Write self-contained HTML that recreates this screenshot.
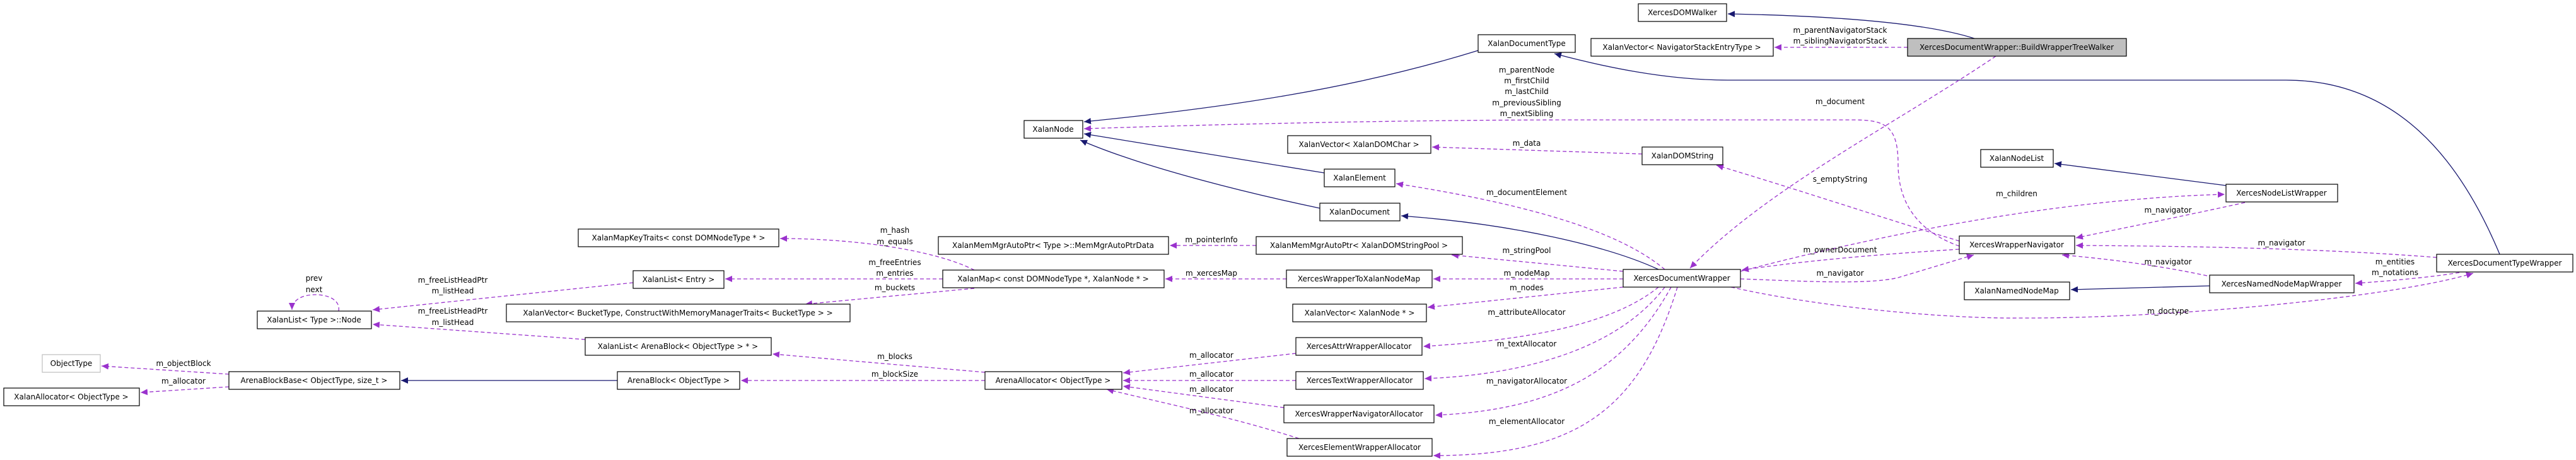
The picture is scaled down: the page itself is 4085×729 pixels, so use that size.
<!DOCTYPE html>
<html><head><meta charset="utf-8"><style>
html,body{margin:0;padding:0;background:#fff;}
svg{display:block;font-family:"DejaVu Sans","Liberation Sans",sans-serif;font-size:12px;}
.b{fill:#fff;stroke:#000;stroke-width:1.2}
.s{fill:none;stroke:#191970;stroke-width:1.3}
.d{fill:none;stroke:#9a32cd;stroke-width:1.3;stroke-dasharray:6,4}
text{text-anchor:middle;fill:#000}
</style></head><body>
<svg width="4085" height="729" viewBox="0 0 4085 729" xmlns="http://www.w3.org/2000/svg">
<defs>
<marker id="an" markerUnits="userSpaceOnUse" markerWidth="12" markerHeight="10" refX="11" refY="5" orient="auto"><path d="M0,0 L11,5 L0,10 z" fill="#191970"/></marker>
<marker id="ap" markerUnits="userSpaceOnUse" markerWidth="12" markerHeight="10" refX="11" refY="5" orient="auto"><path d="M0,0 L11,5 L0,10 z" fill="#9a32cd"/></marker>
</defs>

<!-- solid edges -->
<g class="s" marker-end="url(#an)">
<path class="s" marker-end="url(#an)" d="M2344,80 C2150,140 1950,170 1719,193"/>
<path class="s" marker-end="url(#an)" d="M2100,274 L1719,212"/>
<path class="s" marker-end="url(#an)" d="M2093,330 C1950,300 1800,260 1713,222"/>
<path class="s" marker-end="url(#an)" d="M2630,427 C2550,390 2400,355 2222,342"/>
<path class="s" marker-end="url(#an)" d="M3131,61 C3050,35 2900,25 2740,22"/>
<path class="s" marker-end="url(#an)" d="M3964,403 C3900,250 3800,127 3625,127 L2740,127 C2640,127 2540,105 2465,85"/>
<path class="s" marker-end="url(#an)" d="M3530,294 L3258,259"/>
<path class="s" marker-end="url(#an)" d="M3504,453 L3284,459"/>
<path class="s" marker-end="url(#an)" d="M979,603 L636,603"/>
</g>

<!-- dashed edges -->
<g>
<path class="d" marker-end="url(#ap)" d="M3025,75 L2814,75"/>
<path class="d" marker-end="url(#ap)" d="M3165,89 C3000,200 2800,300 2680,425"/>
<path class="d" marker-end="url(#ap)" d="M3107,390 C3050,370 3010,330 3010,260 C3010,200 2990,190 2940,190 L2500,190 C2200,190 1900,198 1719,204"/>
<path class="d" marker-end="url(#ap)" d="M2604,244 L2271,233"/>
<path class="d" marker-end="url(#ap)" d="M2640,427 C2560,360 2400,320 2214,291"/>
<path class="d" marker-end="url(#ap)" d="M3107,382 C3000,350 2850,300 2722,262"/>
<path class="d" marker-end="url(#ap)" d="M3107,395 C2950,405 2850,415 2762,428"/>
<path class="d" marker-end="url(#ap)" d="M2760,442 C2850,445 2960,452 3010,440 C3060,425 3110,410 3130,404"/>
<path class="d" marker-end="url(#ap)" d="M2760,430 C2950,380 3250,315 3528,308"/>
<path class="d" marker-end="url(#ap)" d="M3560,321 C3450,345 3350,365 3292,377"/>
<path class="d" marker-end="url(#ap)" d="M3864,408 C3700,395 3500,390 3292,389"/>
<path class="d" marker-end="url(#ap)" d="M3500,437 C3420,420 3340,410 3270,404"/>
<path class="d" marker-end="url(#ap)" d="M3900,432 C3850,440 3780,446 3735,449"/>
<path class="d" marker-end="url(#ap)" d="M2745,455 C2900,490 3100,505 3200,504 C3450,505 3800,470 3922,433"/>
<path class="d" marker-end="url(#ap)" d="M2574,430 L2302,404"/>
<path class="d" marker-end="url(#ap)" d="M2574,442 L2273,442"/>
<path class="d" marker-end="url(#ap)" d="M2574,455 L2264,487"/>
<path class="d" marker-end="url(#ap)" d="M2630,455 C2550,520 2400,540 2257,549"/>
<path class="d" marker-end="url(#ap)" d="M2640,455 C2560,560 2400,595 2259,600"/>
<path class="d" marker-end="url(#ap)" d="M2650,455 C2570,600 2450,650 2276,658"/>
<path class="d" marker-end="url(#ap)" d="M2660,455 C2600,650 2500,722 2273,722"/>
<path class="d" marker-end="url(#ap)" d="M2055,560 L1781,591"/>
<path class="d" marker-end="url(#ap)" d="M2055,603 L1781,603"/>
<path class="d" marker-end="url(#ap)" d="M2036,646 L1781,612"/>
<path class="d" marker-end="url(#ap)" d="M2060,695 C1950,660 1850,640 1755,617"/>
<path class="d" marker-end="url(#ap)" d="M2040,442 L1848,442"/>
<path class="d" marker-end="url(#ap)" d="M1992,389 L1855,389"/>
<path class="d" marker-end="url(#ap)" d="M1545,428 C1480,395 1350,378 1237,378"/>
<path class="d" marker-end="url(#ap)" d="M1495,442 L1150,442"/>
<path class="d" marker-end="url(#ap)" d="M1545,457 L1277,482"/>
<path class="d" marker-end="url(#ap)" d="M1562,590 L1225,561"/>
<path class="d" marker-end="url(#ap)" d="M1562,603 L1175,603"/>
<path class="d" marker-end="url(#ap)" d="M363,593 L161,580"/>
<path class="d" marker-end="url(#ap)" d="M363,613 L223,622"/>
<path class="d" marker-end="url(#ap)" d="M1004,448 L591,491"/>
<path class="d" marker-end="url(#ap)" d="M928,538 L591,514"/>
<path class="d" marker-end="url(#ap)" d="M537,493 C540,475 520,467 500,467 C480,467 463,475 463,491"/>
</g>

<!-- boxes -->
<g>
<rect class="b" x="2598" y="6" width="140" height="28"/><text x="2668" y="24">XercesDOMWalker</text>
<rect class="b" x="2344" y="55" width="154" height="28"/><text x="2421" y="73">XalanDocumentType</text>
<rect class="b" x="2523" y="61" width="289" height="28"/><text x="2667" y="79">XalanVector&lt; NavigatorStackEntryType &gt;</text>
<rect x="3025" y="61" width="347" height="28" fill="#bfbfbf" stroke="#000" stroke-width="1.2"/><text x="3198" y="79">XercesDocumentWrapper::BuildWrapperTreeWalker</text>
<rect class="b" x="1624" y="191" width="93" height="28"/><text x="1670" y="209">XalanNode</text>
<rect class="b" x="2042" y="215" width="227" height="28"/><text x="2155" y="233">XalanVector&lt; XalanDOMChar &gt;</text>
<rect class="b" x="2604" y="233" width="128" height="28"/><text x="2668" y="251">XalanDOMString</text>
<rect class="b" x="2100" y="268" width="112" height="28"/><text x="2156" y="286">XalanElement</text>
<rect class="b" x="2093" y="322" width="127" height="28"/><text x="2156" y="340">XalanDocument</text>
<rect class="b" x="3141" y="237" width="115" height="28"/><text x="3198" y="255">XalanNodeList</text>
<rect class="b" x="3530" y="292" width="177" height="28"/><text x="3618" y="310">XercesNodeListWrapper</text>
<rect class="b" x="917" y="363" width="318" height="28"/><text x="1076" y="381">XalanMapKeyTraits&lt; const DOMNodeType * &gt;</text>
<rect class="b" x="1488" y="375" width="365" height="28"/><text x="1670" y="393">XalanMemMgrAutoPtr&lt; Type &gt;::MemMgrAutoPtrData</text>
<rect class="b" x="1992" y="375" width="327" height="28"/><text x="2155" y="393">XalanMemMgrAutoPtr&lt; XalanDOMStringPool &gt;</text>
<rect class="b" x="3107" y="374" width="183" height="28"/><text x="3198" y="392">XercesWrapperNavigator</text>
<rect class="b" x="3864" y="403" width="216" height="28"/><text x="3972" y="421">XercesDocumentTypeWrapper</text>
<rect class="b" x="2574" y="427" width="186" height="28"/><text x="2667" y="445">XercesDocumentWrapper</text>
<rect class="b" x="1004" y="429" width="144" height="28"/><text x="1076" y="447">XalanList&lt; Entry &gt;</text>
<rect class="b" x="1495" y="428" width="351" height="28"/><text x="1670" y="446">XalanMap&lt; const DOMNodeType *, XalanNode * &gt;</text>
<rect class="b" x="2040" y="428" width="231" height="28"/><text x="2155" y="446">XercesWrapperToXalanNodeMap</text>
<rect class="b" x="3504" y="436" width="229" height="28"/><text x="3618" y="454">XercesNamedNodeMapWrapper</text>
<rect class="b" x="3115" y="447" width="167" height="28"/><text x="3198" y="465">XalanNamedNodeMap</text>
<rect class="b" x="803" y="482" width="545" height="28"/><text x="1075" y="500">XalanVector&lt; BucketType, ConstructWithMemoryManagerTraits&lt; BucketType &gt; &gt;</text>
<rect class="b" x="2050" y="482" width="212" height="28"/><text x="2156" y="500">XalanVector&lt; XalanNode * &gt;</text>
<rect class="b" x="408" y="493" width="181" height="28"/><text x="498" y="511">XalanList&lt; Type &gt;::Node</text>
<rect class="b" x="928" y="535" width="295" height="28"/><text x="1075" y="553">XalanList&lt; ArenaBlock&lt; ObjectType &gt; * &gt;</text>
<rect class="b" x="2055" y="535" width="200" height="28"/><text x="2155" y="553">XercesAttrWrapperAllocator</text>
<rect x="67" y="562" width="92" height="28" fill="#fff" stroke="#bfbfbf" stroke-width="1.2"/><text x="113" y="580">ObjectType</text>
<rect class="b" x="363" y="589" width="271" height="28"/><text x="498" y="607">ArenaBlockBase&lt; ObjectType, size_t &gt;</text>
<rect class="b" x="979" y="589" width="194" height="28"/><text x="1076" y="607">ArenaBlock&lt; ObjectType &gt;</text>
<rect class="b" x="1562" y="589" width="217" height="28"/><text x="1670" y="607">ArenaAllocator&lt; ObjectType &gt;</text>
<rect class="b" x="2055" y="589" width="202" height="28"/><text x="2156" y="607">XercesTextWrapperAllocator</text>
<rect class="b" x="6" y="615" width="215" height="28"/><text x="113" y="633">XalanAllocator&lt; ObjectType &gt;</text>
<rect class="b" x="2036" y="642" width="238" height="28"/><text x="2155" y="660">XercesWrapperNavigatorAllocator</text>
<rect class="b" x="2041" y="695" width="230" height="28"/><text x="2156" y="713">XercesElementWrapperAllocator</text>
</g>

<!-- labels -->
<g>
<text x="2918" y="52">m_parentNavigatorStack</text>
<text x="2918" y="69">m_siblingNavigatorStack</text>
<text x="2421" y="115">m_parentNode</text>
<text x="2421" y="132">m_firstChild</text>
<text x="2421" y="149">m_lastChild</text>
<text x="2421" y="167">m_previousSibling</text>
<text x="2421" y="184">m_nextSibling</text>
<text x="2918" y="165">m_document</text>
<text x="2421" y="231">m_data</text>
<text x="2918" y="288">s_emptyString</text>
<text x="2421" y="309">m_documentElement</text>
<text x="3198" y="311">m_children</text>
<text x="3438" y="337">m_navigator</text>
<text x="1419" y="369">m_hash</text>
<text x="1419" y="387">m_equals</text>
<text x="1921" y="384">m_pointerInfo</text>
<text x="2421" y="401">m_stringPool</text>
<text x="2918" y="400">m_ownerDocument</text>
<text x="3618" y="389">m_navigator</text>
<text x="3438" y="419">m_navigator</text>
<text x="3798" y="419">m_entities</text>
<text x="3798" y="436">m_notations</text>
<text x="1419" y="420">m_freeEntries</text>
<text x="1419" y="437">m_entries</text>
<text x="1419" y="460">m_buckets</text>
<text x="1921" y="437">m_xercesMap</text>
<text x="2421" y="437">m_nodeMap</text>
<text x="2918" y="437">m_navigator</text>
<text x="2421" y="460">m_nodes</text>
<text x="498" y="445">prev</text>
<text x="498" y="463">next</text>
<text x="718" y="448">m_freeListHeadPtr</text>
<text x="718" y="465">m_listHead</text>
<text x="718" y="497">m_freeListHeadPtr</text>
<text x="718" y="515">m_listHead</text>
<text x="3438" y="497">m_doctype</text>
<text x="2421" y="499">m_attributeAllocator</text>
<text x="2421" y="549">m_textAllocator</text>
<text x="2421" y="608">m_navigatorAllocator</text>
<text x="2421" y="672">m_elementAllocator</text>
<text x="1419" y="569">m_blocks</text>
<text x="1419" y="597">m_blockSize</text>
<text x="1921" y="567">m_allocator</text>
<text x="1921" y="597">m_allocator</text>
<text x="1921" y="621">m_allocator</text>
<text x="1921" y="655">m_allocator</text>
<text x="291" y="580">m_objectBlock</text>
<text x="291" y="608">m_allocator</text>
</g>
</svg>
</body></html>
